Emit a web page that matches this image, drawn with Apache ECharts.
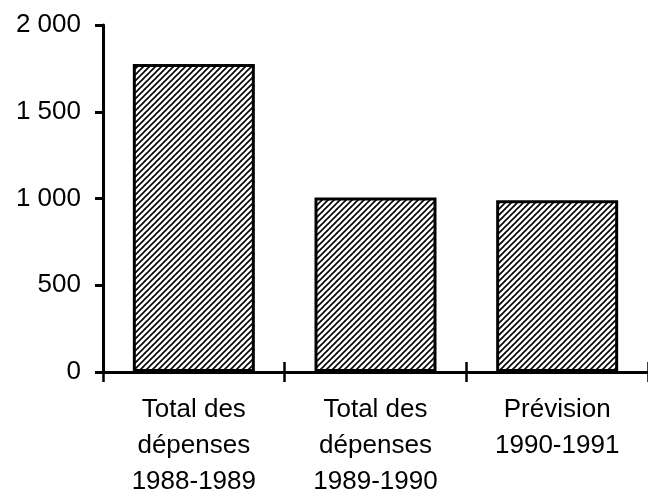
<!DOCTYPE html>
<html>
<head>
<meta charset="utf-8">
<script src="https://cdn.jsdelivr.net/npm/echarts@6/dist/echarts.min.js"></script>
<style>
  html, body { margin: 0; padding: 0; background: #fff; }
  #chart { width: 648px; height: 500px; }
</style>
</head>
<body>
<div id="chart"></div>
<script>
// 类别（x轴）
var categories = ['Total des\ndépenses\n1988-1989', 'Total des\ndépenses\n1989-1990', 'Prévision\n1990-1991'];
// 数值（柱子）
var values = [1775, 1006, 990];
// y轴刻度
var yTicks = [0, 500, 1000, 1500, 2000];

// 斜线填充
function hatch() {
    var s = 6;
    var c = document.createElement('canvas');
    c.width = s;
    c.height = s;
    var ctx = c.getContext('2d');
    ctx.fillStyle = '#fff';
    ctx.fillRect(0, 0, s, s);
    ctx.strokeStyle = '#000';
    ctx.lineWidth = 1.6;
    ctx.beginPath();
    ctx.moveTo(-1, s + 1); ctx.lineTo(s + 1, -1);
    ctx.moveTo(-1, 1); ctx.lineTo(1, -1);
    ctx.moveTo(s - 1, s + 1); ctx.lineTo(s + 1, s - 1);
    ctx.stroke();
    return c;
}

function fmt(v) {
    if (v >= 1000) {
        var r = String(v % 1000);
        while (r.length < 3) r = '0' + r;
        return Math.floor(v / 1000) + ' ' + r;
    }
    return String(v);
}

var myChart = echarts.init(document.getElementById('chart'));
var font = 'Liberation Sans, Arial, sans-serif';
var options = {
    backgroundColor: '#fff',
    animation: false,
    grid: { left: 103, top: 25, right: -7, bottom: 127, containLabel: false },
    xAxis: [{
        type: 'category',
        data: categories,
        axisLine: { show: true, lineStyle: { color: '#000', width: 3 } },
        axisTick: { show: true, interval: 0, alignWithLabel: false, length: 10, lineStyle: { color: '#000', width: 2.5 } },
        axisLabel: {
            color: '#000', fontSize: 26, lineHeight: 36, fontFamily: font,
            margin: 20, interval: 0
        }
    }, {
        type: 'category',
        data: categories,
        position: 'bottom',
        offset: 0,
        axisLine: { show: false },
        axisTick: { show: true, interval: 0, inside: true, length: 10, lineStyle: { color: '#000', width: 2.5 } },
        axisLabel: { show: false }
    }],
    yAxis: {
        type: 'value',
        min: yTicks[0],
        max: yTicks[yTicks.length - 1],
        interval: 500,
        splitLine: { show: false },
        axisLine: { show: true, lineStyle: { color: '#000', width: 3 } },
        axisTick: { show: true, length: 8, lineStyle: { color: '#000', width: 3 } },
        axisLabel: {
            color: '#000', fontSize: 26, fontFamily: font, margin: 22,
            formatter: fmt
        }
    },
    series: [{
        type: 'bar',
        xAxisIndex: 0,
        data: values,
        barWidth: 122,
        itemStyle: {
            color: { image: hatch(), repeat: 'repeat' },
            borderColor: '#000',
            borderWidth: 3
        }
    }]
};
myChart.setOption(options, true);
</script>
</body>
</html>
